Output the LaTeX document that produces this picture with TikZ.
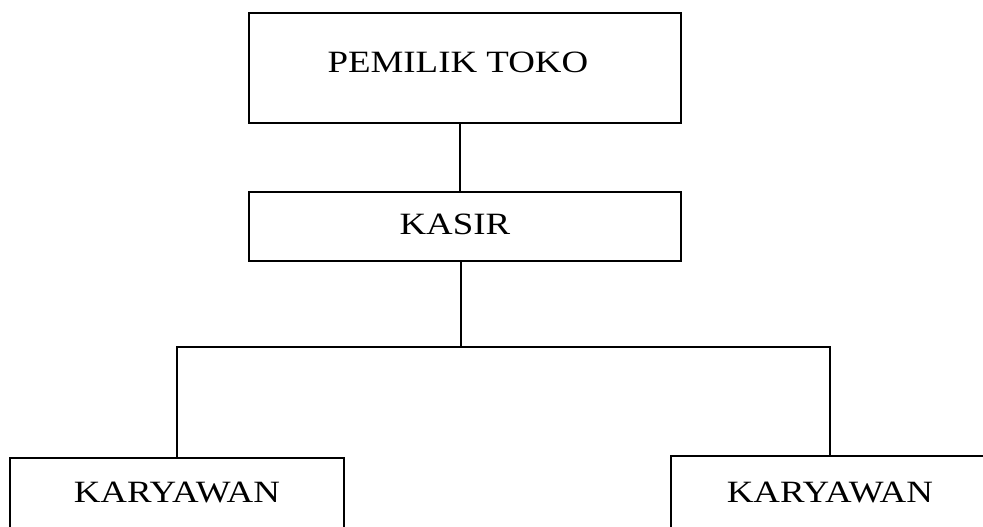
\documentclass[tikz,border=0pt]{standalone}
\usepackage{fontspec}
\setmainfont{Liberation Serif}
\usetikzlibrary{positioning}

\newcommand{\lebar}[1]{\scalebox{1.19}[1]{#1}}

\begin{document}
\begin{tikzpicture}[x=1pt,y=-1pt,
	jabatan/.style={draw,rectangle,inner sep=0pt,line width=1.8pt,font=\fontsize{31}{36}\selectfont},
	garis/.style={line width=1.8pt}]

\useasboundingbox (0,0) rectangle (983,527);
\clip (0,0) rectangle (983,527);

%-------------------------------------------------------------------------------
% Pemilik - Kasir
%-------------------------------------------------------------------------------
\node (pemilik) [jabatan,anchor=north west,minimum width=432pt,text height=60pt,text depth=50pt] at (248,12) {\hspace*{-14pt}\lebar{PEMILIK TOKO}};

\node (kasir) [jabatan,below=67pt of pemilik,minimum width=432pt,text height=43pt,text depth=26pt] {\hspace*{-20pt}\lebar{KASIR}};
\draw [garis] ([xshift=-5pt]pemilik.south) -- ([xshift=-5pt]pemilik.south |- kasir.north);

%-------------------------------------------------------------------------------
% Karyawan
%-------------------------------------------------------------------------------
\node (karyawankiri) [jabatan,anchor=north west,minimum width=334pt,text height=45pt,text depth=98pt] at (9,457) {\lebar{KARYAWAN}};
\node (karyawankanan) [jabatan,anchor=north west,minimum width=318pt,text height=47pt,text depth=98pt] at (670,455) {\lebar{KARYAWAN}};

\coordinate (cabang) at (461,347);
\draw [garis] (kasir.south -| cabang) -- (cabang);
\draw [garis] (karyawankiri.north) |- (cabang) -| (karyawankanan.north);
\end{tikzpicture}
\end{document}
